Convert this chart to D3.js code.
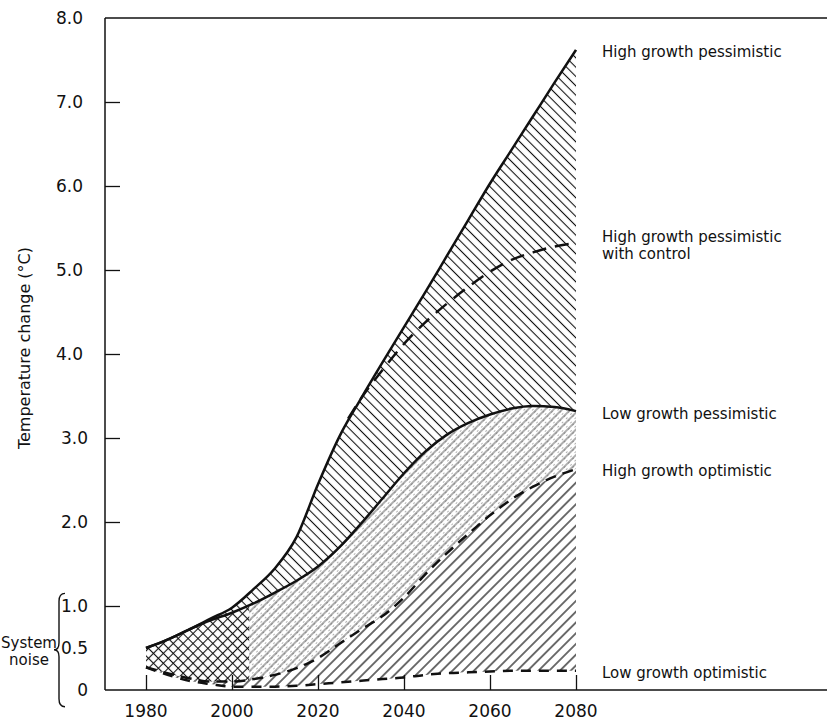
<!DOCTYPE html>
<html>
<head>
<meta charset="utf-8">
<script src="https://cdn.jsdelivr.net/npm/d3@7"></script>
<style>
  body { margin: 0; background: #fff; }
  text { font-family: "DejaVu Sans", sans-serif; fill: #111; }
</style>
</head>
<body>
<script>
// years shared by all four scenario curves
var years = [1980,1985,1990,1995,2000,2005,2010,2015,2020,2025,2030,2035,2040,2045,2050,2055,2060,2065,2070,2075,2080];
var highPess = [0.5,0.6,0.72,0.85,0.98,1.2,1.45,1.82,2.45,3.02,3.47,3.9,4.32,4.74,5.17,5.6,6.03,6.43,6.83,7.23,7.62];
var lowPess  = [0.5,0.6,0.72,0.83,0.92,1.03,1.16,1.3,1.47,1.7,1.98,2.28,2.58,2.84,3.04,3.18,3.28,3.35,3.38,3.37,3.32];
var highOpt  = [0.27,0.2,0.14,0.1,0.1,0.13,0.18,0.26,0.38,0.55,0.72,0.88,1.1,1.38,1.63,1.86,2.08,2.27,2.42,2.54,2.63];
var lowOpt   = [0.27,0.18,0.11,0.07,0.04,0.04,0.04,0.05,0.07,0.09,0.11,0.13,0.15,0.18,0.2,0.21,0.22,0.23,0.23,0.23,0.23];

// high growth pessimistic with control only splits off later
var controlYears = [2027,2030,2035,2040,2045,2050,2055,2060,2065,2070,2075,2080];
var highPessCtrl = [3.23,3.47,3.81,4.12,4.38,4.6,4.8,4.98,5.12,5.21,5.28,5.32];

var xTicks = [1980,2000,2020,2040,2060,2080];
var yTickMarks = [1,2,3,4,5,6,7];
var yTickValues = [0,0.5,1,2,3,4,5,6,7,8];
var yTickLabels = ["0","0.5","1.0","2.0","3.0","4.0","5.0","6.0","7.0","8.0"];

var W = 827, H = 721;
var svg = d3.select("body").append("svg")
      .attr("width", W)
      .attr("height", H);

var x = d3.scaleLinear().domain([1980,2080]).range([146,576]);
var y = d3.scaleLinear().domain([0,8]).range([690,18]);

// ---- hatch patterns
var defs = svg.append("defs");
function hatch(id, spacing, angle, width, dash, color) {
  var p = defs.append("pattern")
        .attr("id", id)
        .attr("patternUnits", "userSpaceOnUse")
        .attr("width", spacing)
        .attr("height", spacing)
        .attr("patternTransform", "rotate(" + angle + ")");
  p.append("line")
        .attr("x1", spacing/2).attr("y1", 0)
        .attr("x2", spacing/2).attr("y2", spacing)
        .attr("stroke", color)
        .attr("stroke-width", width)
        .attr("stroke-dasharray", dash);
}
hatch("back", 6.6, -45, 1.1, null, "#111");      // "\" pessimistic band
hatch("fwdBold", 7.6, 45, 1.2, null, "#111");     // "/" optimistic band
hatch("fwdFine", 6, 45, 0.8, null, "#333");
hatch("backDot", 6, -45, 0.9, "1,2", "#555");
hatch("xA", 7, 45, 1.1, null, "#111");
hatch("xB", 7, -45, 1.1, null, "#111");

var splitX = x(2004);
defs.append("clipPath").attr("id", "early")
    .append("rect").attr("x", 0).attr("y", 0).attr("width", splitX).attr("height", H);
defs.append("clipPath").attr("id", "late")
    .append("rect").attr("x", splitX).attr("y", 0).attr("width", W).attr("height", H);

function band(lo, hi) {
  return d3.area()
      .x(function(d,i){ return x(years[i]); })
      .y0(function(d,i){ return y(lo[i]); })
      .y1(function(d,i){ return y(hi[i]); })
      .curve(d3.curveMonotoneX)(years);
}

svg.append("path").attr("d", band(lowPess, highPess)).attr("fill", "url(#back)");
svg.append("path").attr("d", band(lowOpt, highOpt)).attr("fill", "url(#fwdBold)");
var mid = band(highOpt, lowPess);
svg.append("path").attr("d", mid).attr("fill", "url(#fwdFine)").attr("clip-path", "url(#late)");
svg.append("path").attr("d", mid).attr("fill", "url(#backDot)").attr("clip-path", "url(#late)");
svg.append("path").attr("d", mid).attr("fill", "url(#xA)").attr("clip-path", "url(#early)");
svg.append("path").attr("d", mid).attr("fill", "url(#xB)").attr("clip-path", "url(#early)");

// ---- curves
var line = d3.line()
      .x(function(d){ return x(d[0]); })
      .y(function(d){ return y(d[1]); })
      .curve(d3.curveMonotoneX);

var curves = [
  { vals: highPess, dash: null },
  { vals: lowPess, dash: null },
  { vals: highOpt, dash: "11,7" },
  { vals: lowOpt, dash: "10,8" }
];
curves.forEach(function(c){
  svg.append("path")
      .attr("d", line(years.map(function(yr,i){ return [yr, c.vals[i]]; })))
      .attr("fill", "none")
      .attr("stroke", "#111")
      .attr("stroke-width", 2.5)
      .attr("stroke-dasharray", c.dash);
});
svg.append("path")
    .attr("d", line(controlYears.map(function(yr,i){ return [yr, highPessCtrl[i]]; })))
    .attr("fill", "none")
    .attr("stroke", "#111")
    .attr("stroke-width", 2.5)
    .attr("stroke-dasharray", "14,9");

// ---- axes frame
svg.append("line").attr("x1", 105).attr("x2", W).attr("y1", 690).attr("y2", 690)
    .attr("stroke", "#111").attr("stroke-width", 1.5);
svg.append("line").attr("x1", 105).attr("x2", W).attr("y1", 18).attr("y2", 18)
    .attr("stroke", "#111").attr("stroke-width", 1.5);
svg.append("line").attr("x1", 105).attr("x2", 105).attr("y1", 18).attr("y2", 690)
    .attr("stroke", "#111").attr("stroke-width", 1.5);

var yAxis = svg.append("g")
    .attr("transform", "translate(105,0)")
    .call(d3.axisLeft(y).tickValues(yTickMarks).tickSizeInner(-15).tickSizeOuter(0).tickFormat(""));
yAxis.select(".domain").remove();
yAxis.selectAll("line").attr("stroke", "#111").attr("stroke-width", 1.3);

var xAxis = svg.append("g")
    .attr("transform", "translate(0,690)")
    .call(d3.axisBottom(x).tickValues(xTicks).tickSizeInner(-15).tickSizeOuter(0).tickFormat(""));
xAxis.select(".domain").remove();
xAxis.selectAll("line").attr("stroke", "#111").attr("stroke-width", 1.3);

svg.selectAll("text.ylab")
    .data(yTickValues)
    .enter().append("text")
      .attr("class", "ylab")
      .attr("x", function(d){ return d >= 4 ? 83 : 88; })
      .attr("y", function(d){ return y(d); })
      .attr("dy", "0.36em")
      .attr("text-anchor", "end")
      .attr("font-size", 17)
      .text(function(d,i){ return yTickLabels[i]; });

svg.selectAll("text.xlab")
    .data(xTicks)
    .enter().append("text")
      .attr("class", "xlab")
      .attr("x", function(d){ return x(d); })
      .attr("y", 717)
      .attr("text-anchor", "middle")
      .attr("font-size", 17)
      .text(function(d){ return d; });

svg.append("text")
    .attr("transform", "translate(30,348) rotate(-90)")
    .attr("text-anchor", "middle")
    .attr("font-size", 16)
    .text("Temperature change (°C)");

// system noise brace
var bt = y(1.15), bb = y(-0.2), bm = y(0.48);
svg.append("path")
    .attr("d", "M65," + bt + " Q59," + bt + " 59," + (bt+8) + " L59," + (bm-7) +
               " Q59," + bm + " 54," + bm + " Q59," + bm + " 59," + (bm+7) +
               " L59," + (bb-8) + " Q59," + bb + " 65," + bb)
    .attr("fill", "none")
    .attr("stroke", "#111")
    .attr("stroke-width", 1.4);
svg.append("text").attr("x", 29).attr("y", 648).attr("text-anchor", "middle")
    .attr("font-family", "Liberation Sans").attr("font-size", 15).text("System");
svg.append("text").attr("x", 29).attr("y", 665).attr("text-anchor", "middle")
    .attr("font-family", "Liberation Sans").attr("font-size", 15).text("noise");

// ---- end labels
var endLabels = [
  { lines: ["High growth pessimistic"], v: highPess[highPess.length-1] },
  { lines: ["High growth pessimistic", "with control"], v: highPessCtrl[highPessCtrl.length-1] },
  { lines: ["Low growth pessimistic"], v: lowPess[lowPess.length-1] },
  { lines: ["High growth optimistic"], v: highOpt[highOpt.length-1] },
  { lines: ["Low growth optimistic"], v: lowOpt[lowOpt.length-1] }
];
endLabels.forEach(function(l){
  var t = svg.append("text")
      .attr("x", 602)
      .attr("y", y(l.v) + 2 - (l.lines.length-1)*8.5)
      .attr("font-size", 15);
  l.lines.forEach(function(s,i){
    t.append("tspan").attr("x", 602).attr("dy", i === 0 ? "0.36em" : 17).text(s);
  });
});
</script>
</body>
</html>
